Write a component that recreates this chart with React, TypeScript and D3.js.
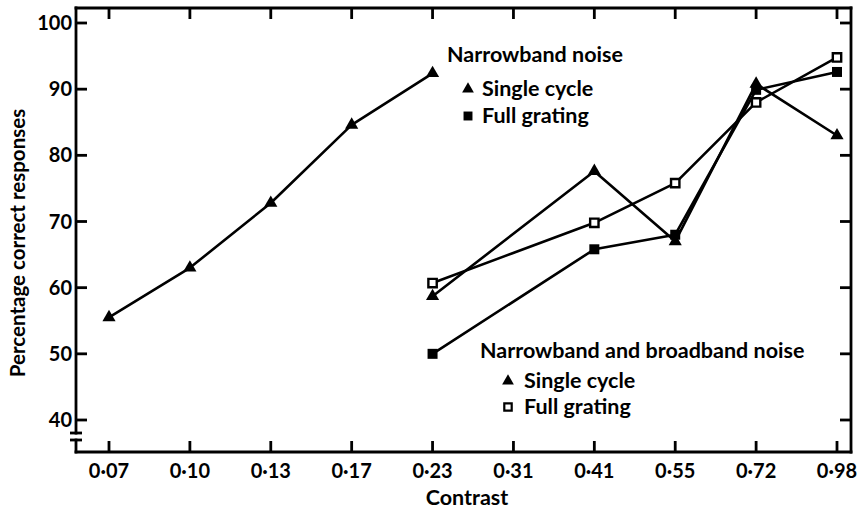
import React from "react";
import * as d3 from "d3";

const contrasts = ["0·07", "0·10", "0·13", "0·17", "0·23", "0·31", "0·41", "0·55", "0·72", "0·98"];
const yTicks = [40, 50, 60, 70, 80, 90, 100];

const nbSingleX = ["0·07", "0·10", "0·13", "0·17", "0·23"];
const nbSingleY = [55.5, 63, 72.8, 84.6, 92.4];

const rightX = ["0·23", "0·41", "0·55", "0·72", "0·98"];
const nbFullY = [50, 65.8, 68, 89.9, 92.6];
const nbbSingleY = [58.7, 77.6, 67, 90.8, 83];
const nbbFullY = [60.7, 69.8, 75.8, 88, 94.8];

const W = 867;
const H = 511;
const left = 76;
const right = 851;
const top = 8;
const bottom = 452;
const FONT = "Lato, 'Open Sans', sans-serif";

export default function App() {
  const x = d3.scalePoint<string>().domain(contrasts).range([109, 837]);
  const y = d3.scaleLinear().domain([40, 100]).range([420, 23]);
  const line = d3.line<[string, number]>().x((d) => x(d[0]) as number).y((d) => y(d[1]));
  const tri = d3.symbol().type(d3.symbolTriangle).size(75)() as string;
  const sq = d3.symbol().type(d3.symbolSquare).size(100)() as string;
  const osq = d3.symbol().type(d3.symbolSquare).size(70)() as string;
  const legTri = d3.symbol().type(d3.symbolTriangle).size(60)() as string;
  const legSq = d3.symbol().type(d3.symbolSquare).size(80)() as string;
  const legOsq = d3.symbol().type(d3.symbolSquare).size(55)() as string;

  const zip = (xs: string[], ys: number[]) => xs.map((c, i) => [c, ys[i]] as [string, number]);
  const nbSingle = zip(nbSingleX, nbSingleY);
  const nbFull = zip(rightX, nbFullY);
  const nbbSingle = zip(rightX, nbbSingleY);
  const nbbFull = zip(rightX, nbbFullY);

  const tl = 11;
  const sw = 2.8;
  const breakTop = 433;
  const breakBot = 440;

  return (
    <svg width={W} height={H} style={{ position: "absolute", left: 0, top: 0, background: "#fff" }}>
      <rect x={0} y={0} width={W} height={H} fill="#fff" />
      {/* frame */}
      <g stroke="#000" strokeWidth={sw} fill="none" strokeLinecap="square">
        <line x1={left} y1={top} x2={right} y2={top} />
        <line x1={right} y1={top} x2={right} y2={bottom} />
        <line x1={left} y1={bottom} x2={right} y2={bottom} />
        <line x1={left} y1={top} x2={left} y2={breakTop} />
        <line x1={left} y1={breakBot} x2={left} y2={bottom} />
        <line x1={left - 6} y1={breakTop} x2={left + 6} y2={breakTop} strokeLinecap="butt" />
        <line x1={left - 6} y1={breakBot} x2={left + 6} y2={breakBot} strokeLinecap="butt" />
      </g>
      {/* ticks */}
      <g stroke="#000" strokeWidth={sw}>
        {contrasts.map((c) => (
          <g key={c}>
            <line x1={x(c)} x2={x(c)} y1={bottom} y2={bottom - tl} />
            <line x1={x(c)} x2={x(c)} y1={top} y2={top + tl} />
          </g>
        ))}
        {yTicks.map((t) => (
          <g key={t}>
            <line x1={left} x2={left + tl} y1={y(t)} y2={y(t)} />
            <line x1={right} x2={right - tl} y1={y(t)} y2={y(t)} />
          </g>
        ))}
      </g>
      {/* tick labels */}
      <g fontFamily={FONT} fontWeight={700} fontSize={20} fill="#000">
        {contrasts.map((c) => (
          <text key={c} x={x(c)} y={478} textAnchor="middle">
            {c}
          </text>
        ))}
        {yTicks.map((t) => (
          <text key={t} x={72} y={y(t) + 7} textAnchor="end">
            {t}
          </text>
        ))}
      </g>
      {/* axis titles */}
      <text x={467} y={505} textAnchor="middle" fontFamily={FONT} fontWeight={700} fontSize={21.5}>
        Contrast
      </text>
      <text
        transform={`translate(25,243) rotate(-90)`}
        textAnchor="middle"
        fontFamily={FONT}
        fontWeight={700}
        fontSize={20.5}
      >
        Percentage correct responses
      </text>
      {/* lines */}
      <g fill="none" stroke="#000" strokeWidth={2.6} strokeLinejoin="round">
        <path d={line(nbSingle) as string} />
        <path d={line(nbFull) as string} />
        <path d={line(nbbSingle) as string} />
        <path d={line(nbbFull) as string} />
      </g>
      {/* markers */}
      <g>
        {nbSingle.map((d, i) => (
          <path key={"a" + i} d={tri} transform={`translate(${x(d[0])},${y(d[1])})`} fill="#000" />
        ))}
        {nbbSingle.map((d, i) => (
          <path key={"b" + i} d={tri} transform={`translate(${x(d[0])},${y(d[1])})`} fill="#000" />
        ))}
        {nbFull.map((d, i) => (
          <path key={"c" + i} d={sq} transform={`translate(${x(d[0])},${y(d[1])})`} fill="#000" />
        ))}
        {nbbFull.map((d, i) => (
          <path
            key={"d" + i}
            d={osq}
            transform={`translate(${x(d[0])},${y(d[1])})`}
            fill="#fff"
            stroke="#000"
            strokeWidth={2.4}
          />
        ))}
      </g>
      {/* legends */}
      <g fontFamily={FONT} fontWeight={700} fontSize={21.5} fill="#000">
        <text x={447} y={62}>Narrowband noise</text>
        <path d={legTri} transform="translate(468,89)" />
        <text x={482} y={96}>Single cycle</text>
        <path d={legSq} transform="translate(468,116)" />
        <text x={482} y={123}>Full grating</text>

        <text x={480} y={358}>Narrowband and broadband noise</text>
        <path d={legTri} transform="translate(508,381)" />
        <text x={524} y={388}>Single cycle</text>
        <path d={legOsq} transform="translate(508,407)" fill="#fff" stroke="#000" strokeWidth={2.2} />
        <text x={524} y={414}>Full grating</text>
      </g>
    </svg>
  );
}
